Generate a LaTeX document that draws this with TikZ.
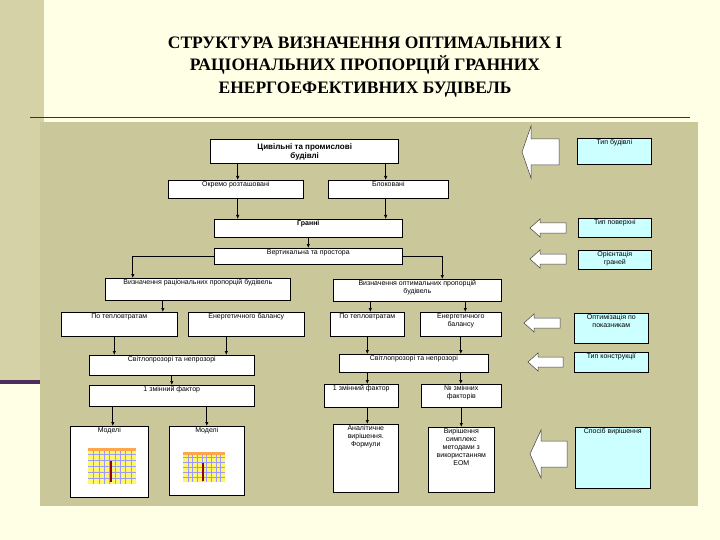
\documentclass[tikz,border=0pt]{standalone}
\usepackage{fontspec}
\setmainfont{Liberation Sans}
\newfontfamily\titlefont{Liberation Serif}
\usetikzlibrary{arrows.meta}
\definecolor{pagebg}{HTML}{FFFFE6}
\definecolor{panel}{HTML}{CAC79B}
\definecolor{strip}{HTML}{D6D2A8}
\definecolor{cyanbox}{HTML}{CCFFFF}
\definecolor{purp}{HTML}{4B2E5A}
\tikzset{
 bx/.style={draw=black,fill=white,line width=0.6pt,anchor=north west,inner sep=0pt},
 cb/.style={bx,fill=cyanbox},
 con/.style={-{Latex[length=4pt,width=3.5pt]},line width=0.7pt},
 barrowst/.style={draw=black!75,fill=white,line width=0.5pt},
}
\newcommand{\mybox}[7]{\node[#1,minimum width=#4-#2,minimum height=#5-#3] (#6) at (#2,#3) {}; \node[anchor=north,align=center,font=\fontsize{7}{8}\selectfont,inner sep=1.5pt] at (#6.north) {#7};}
\newcommand{\barrow}[6]{\draw[barrowst] (#1,#2) -- (#3,#2-#4) -- (#3,#2-#6) -- (#5,#2-#6) -- (#5,#2+#6) -- (#3,#2+#6) -- (#3,#2+#4) -- cycle;}
\begin{document}
\begin{tikzpicture}[x=1pt,y=-1pt]
\useasboundingbox (0,0) rectangle (720,540);
\fill[pagebg] (0,0) rectangle (720,540);
\fill[strip] (0,0) rectangle (44,380);
\fill[purp] (0,380) rectangle (40,384);
\fill[panel] (40,122) rectangle (698,506);
\draw[line width=1pt,black!80] (30,118) -- (690,118);
\node[font=\titlefont\bfseries\fontsize{17.5}{22.5}\selectfont,align=center] (title) at (365,67) {СТРУКТУРА ВИЗНАЧЕННЯ ОПТИМАЛЬНИХ І\\РАЦІОНАЛЬНИХ ПРОПОРЦІЙ ГРАННИХ\\ЕНЕРГОЕФЕКТИВНИХ БУДІВЕЛЬ};
\node[bx,line width=1.4pt,minimum width=188pt,minimum height=24pt] (top) at (210,139) {};
\node[font=\bfseries\fontsize{8}{9}\selectfont,align=center] at (top.center) {Цивільні та промислові\\будівлі};
\mybox{bx}{168}{180}{303}{198}{sep}{Окремо розташовані}
\mybox{bx}{328}{180}{448}{198}{blk}{Блоковані}
\mybox{bx}{214}{219}{402}{237}{gran}{\bfseries Гранні}
\mybox{bx}{214}{248}{402}{264}{vert}{Вертикальна та простора}
\mybox{bx}{105}{278}{290}{300}{rac}{Визначення раціональних пропорцій будівель}
\mybox{bx}{333}{279}{501}{301}{opt}{Визначення оптимальних пропорцій\\будівель}
\mybox{bx}{61}{312}{177}{336}{lt1}{По тепловтратам}
\mybox{bx}{188}{312}{304}{336}{le1}{Енергетичного балансу}
\mybox{bx}{330}{312}{404}{336}{rt1}{По тепловтратам}
\mybox{bx}{420}{312}{501}{336}{re1}{Енергетичного\\балансу}
\mybox{bx}{89}{355}{254}{375}{ls}{Світлопрозорі та непрозорі}
\mybox{bx}{339}{354}{488}{372}{rs}{Світлопрозорі та непрозорі}
\mybox{bx}{89}{385}{254}{406}{lf}{1 змінний фактор}
\mybox{bx}{324}{384}{398}{407}{rf}{1 змінний фактор}
\mybox{bx}{421}{384}{501}{407}{nf}{№ змінних\\факторів}
\mybox{bx}{70}{426}{148}{497}{m1}{Моделі}
\mybox{bx}{169}{426}{244}{495}{m2}{Моделі}
\mybox{bx}{333}{424}{398}{492}{an}{Аналітичне\\вирішення.\\Формули}
\mybox{bx}{428}{427}{494}{492}{sim}{Вирішення\\симплекс\\методами з\\використанням\\ЕОМ}
\mybox{cb}{577}{138}{651}{164}{c1}{Тип будівлі}
\mybox{cb}{578}{218}{651}{237}{c2}{Тип поверхні}
\mybox{cb}{578}{250}{651}{269}{c3}{Орієнтація\\граней}
\mybox{cb}{574}{313}{648}{343}{c4}{Оптимізація по\\показникам}
\mybox{cb}{574}{352}{648}{372}{c5}{Тип конструкції}
\mybox{cb}{575}{427}{650}{488}{c6}{Спосіб вирішення}
\barrow{522}{152}{531}{26}{559}{13}
\barrow{530}{228}{540}{9}{566}{5}
\barrow{530}{259}{540}{9}{566}{5}
\barrow{524}{323}{534}{9}{560}{5}
\barrow{528}{362}{538}{9}{563}{5}
\barrow{530}{454}{541}{24}{567}{13}
\draw[con] ([xshift=-67pt]top.south) -- ([xshift=-67pt]top.south |- sep.north);
\draw[con] ([xshift=81pt]top.south) -- ([xshift=81pt]top.south |- blk.north);
\draw[con] ([xshift=-67pt]top.south |- sep.south) -- ([xshift=-67pt]top.south |- gran.north);
\draw[con] ([xshift=81pt]top.south |- blk.south) -- ([xshift=81pt]top.south |- gran.north);
\draw[con] (gran.south) -- (vert.north);
\draw[con] (vert.west) -| ([xshift=-65pt]rac.north);
\draw[con] (vert.east) -| ([xshift=25pt]opt.north);
\draw[con] ([xshift=-35pt]rac.south) -- ([xshift=-35pt]rac.south |- lt1.north);
\draw[con] ([xshift=-47pt]opt.south) -- ([xshift=-47pt]opt.south |- rt1.north);
\draw[con] ([xshift=48pt]opt.south) -- ([xshift=48pt]opt.south |- re1.north);
\draw[con] ([xshift=-5pt]lt1.south) -- ([xshift=-5pt]lt1.south |- ls.north);
\draw[con] ([xshift=-20pt]le1.south) -- ([xshift=-20pt]le1.south |- ls.north);
\draw[con] (rt1.south) -- (rt1.south |- rs.north);
\draw[con] (re1.south) -- (re1.south |- rs.north);
\draw[con] (ls.south) -- (lf.north);
\draw[con] (rt1.south |- rs.south) -- (rt1.south |- rf.north);
\draw[con] (re1.south |- rs.south) -- (re1.south |- nf.north);
\draw[con] ([xshift=-59pt]lf.south) -- ([xshift=-59pt]lf.south |- m1.north);
\draw[con] ([xshift=35pt]lf.south) -- ([xshift=35pt]lf.south |- m2.north);
\draw[con] (rt1.south |- rf.south) -- (rt1.south |- an.north);
\draw[con] (nf.south) -- (nf.south |- sim.north);
\foreach \cx/\cy/\w/\h in {88/448/48/36, 183/452/42/30}{
  \fill[yellow!60] (\cx,\cy) rectangle (\cx+\w,\cy+\h);
  \fill[orange!70] (\cx,\cy) rectangle (\cx+\w,\cy+3);
  \foreach \i in {1,...,8}{\draw[blue!40,line width=0.2pt] (\cx+\i*\w/9,\cy+3) -- (\cx+\i*\w/9,\cy+\h);}
  \foreach \j in {1,...,5}{\draw[blue!40,line width=0.2pt] (\cx,\cy+\j*\h/6) -- (\cx+\w,\cy+\j*\h/6);}
  \fill[red!60!black] (\cx+\w*0.45,\cy+\h*0.35) rectangle (\cx+\w*0.5,\cy+\h*0.95);
}
\end{tikzpicture}
\end{document}
